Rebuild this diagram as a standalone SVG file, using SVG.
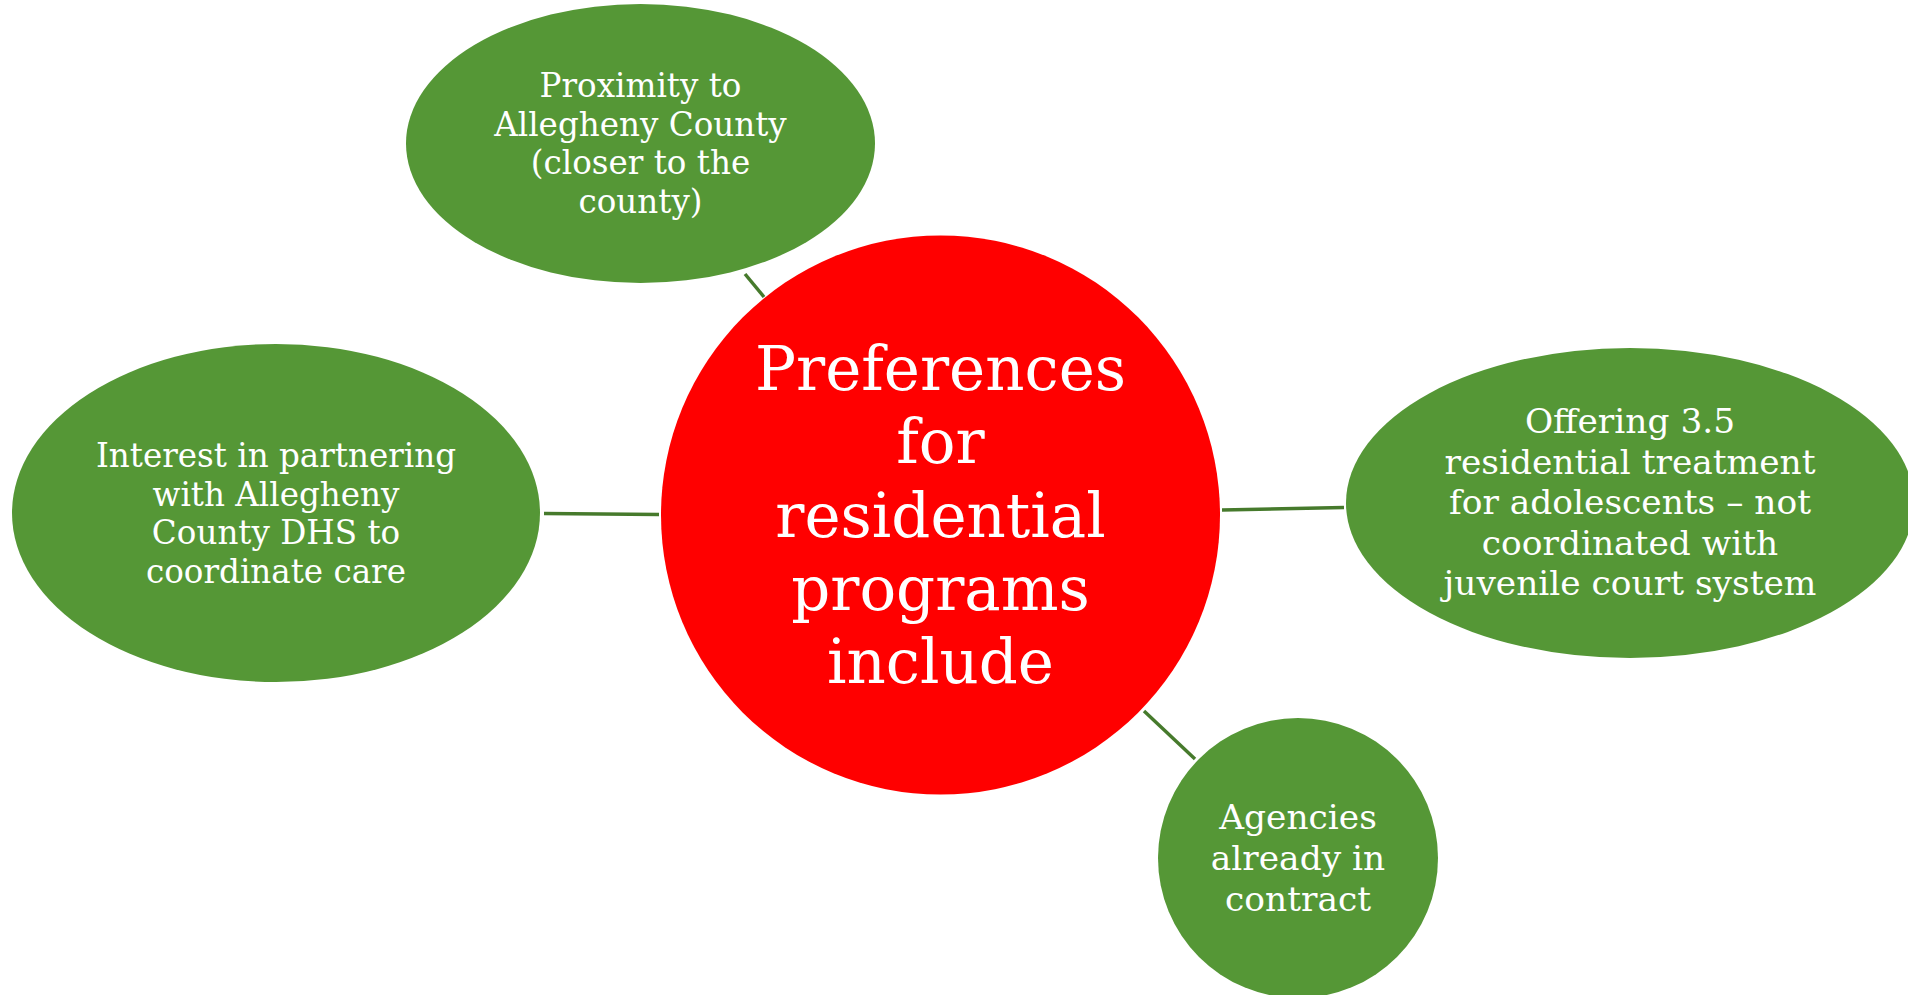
<svg xmlns="http://www.w3.org/2000/svg" width="1908" height="995" viewBox="0 0 1908 995">
<style>
.g{fill:#559736}
.r{fill:#ff0000}
.t{font-family:"DejaVu Serif","Liberation Serif",serif;fill:#ffffff;text-anchor:middle}
.s1{font-size:32.6px}
.s2{font-size:34.4px}
.c{font-size:61px}
.ln{stroke:#467a2c;stroke-width:3.5;fill:none}
</style>
<rect width="1908" height="995" fill="#ffffff"/>
<g id="connectors">
<line class="ln" x1="745" y1="274" x2="764" y2="297"/>
<line class="ln" x1="544" y1="513.5" x2="659" y2="514.5"/>
<line class="ln" x1="1222" y1="510" x2="1344" y2="507.5"/>
<line class="ln" x1="1144" y1="711" x2="1195" y2="759"/>
</g>
<g id="center">
<circle class="r" cx="940.5" cy="515" r="279.5"/>
<text class="t c"><tspan x="940.5" y="390">Preferences</tspan><tspan x="940.5" y="463.3">for</tspan><tspan x="940.5" y="536.6">residential</tspan><tspan x="940.5" y="610">programs</tspan><tspan x="940.5" y="683">include</tspan></text>
</g>
<g id="node-top">
<ellipse class="g" cx="640.5" cy="143.5" rx="234.5" ry="139.5"/>
<text class="t s1"><tspan x="640.5" y="97">Proximity to</tspan><tspan x="640.5" y="135.5">Allegheny County</tspan><tspan x="640.5" y="174">(closer to the</tspan><tspan x="640.5" y="212.5">county)</tspan></text>
</g>
<g id="node-left">
<ellipse class="g" cx="276" cy="513" rx="264" ry="169"/>
<text class="t s1"><tspan x="276" y="467">Interest in partnering</tspan><tspan x="276" y="505.5">with Allegheny</tspan><tspan x="276" y="544">County DHS to</tspan><tspan x="276" y="582.5">coordinate care</tspan></text>
</g>
<g id="node-right">
<ellipse class="g" cx="1630" cy="503" rx="284" ry="155"/>
<text class="t s2"><tspan x="1630" y="433">Offering 3.5</tspan><tspan x="1630" y="473.6">residential treatment</tspan><tspan x="1630" y="514.2">for adolescents – not</tspan><tspan x="1630" y="554.8">coordinated with</tspan><tspan x="1630" y="595.4">juvenile court system</tspan></text>
</g>
<g id="node-bottom">
<circle class="g" cx="1298" cy="858" r="140"/>
<text class="t s2"><tspan x="1298" y="829">Agencies</tspan><tspan x="1298" y="870">already in</tspan><tspan x="1298" y="911">contract</tspan></text>
</g>
</svg>
